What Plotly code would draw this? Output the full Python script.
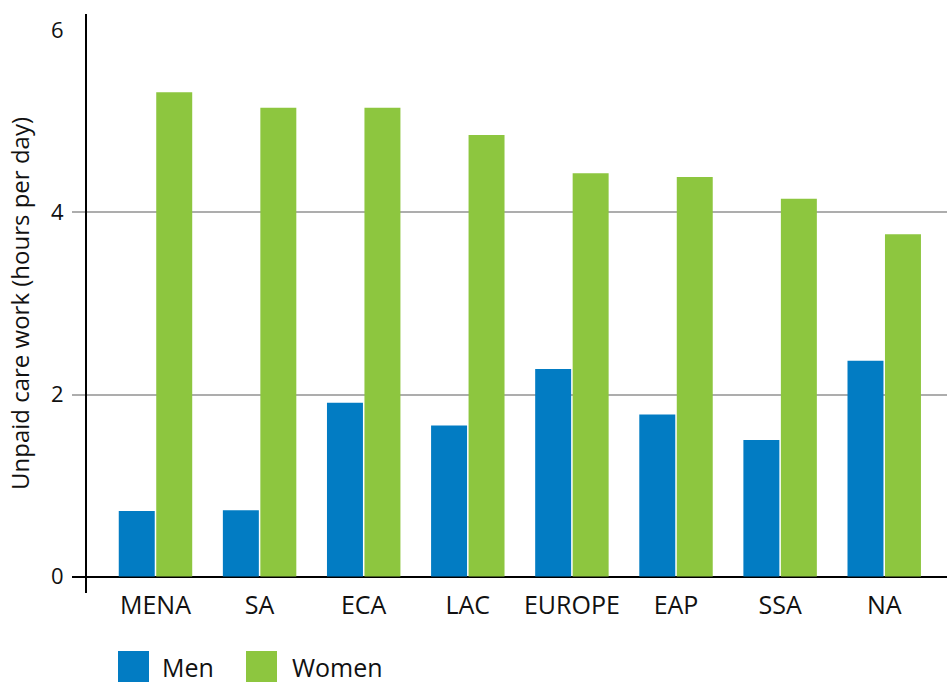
import plotly.graph_objects as go

regions = ["MENA", "SA", "ECA", "LAC", "EUROPE", "EAP", "SSA", "NA"]
men = [0.72, 0.73, 1.91, 1.66, 2.28, 1.78, 1.50, 2.37]
women = [5.32, 5.15, 5.15, 4.85, 4.43, 4.39, 4.15, 3.76]
series_names = ["Men", "Women"]
series_colors = ["#027CC3", "#8DC63F"]
y_ticks = [0, 2, 4, 6]
grid_ticks = [2, 4]

W, H = 947, 684
ML, MR, MT, MB = 72, 0, 14, 91
PW, PH = W - ML - MR, H - MT - MB

def px_x(p):
    return (p - ML) / PW

def px_y(p):
    return (H - MB - p) / PH

FONT = "Open Sans, Noto Sans, sans-serif"

fig = go.Figure()
for name, vals, col in zip(series_names, [men, women], series_colors):
    fig.add_trace(go.Bar(x=regions, y=vals, name=name, marker_color=col,
                         marker_line_width=0, showlegend=False))
# empty helper trace so the grid-only overlay axis is rendered
fig.add_trace(go.Scatter(x=[], y=[], yaxis="y2", showlegend=False, hoverinfo="skip"))

yr = [-0.18, 6.18]
fig.update_layout(
    width=W, height=H,
    margin=dict(l=ML, r=MR, t=MT, b=MB, pad=0),
    paper_bgcolor="white", plot_bgcolor="white",
    barmode="group", bargap=0.28, bargroupgap=0.04,
    font=dict(family=FONT, color="#111111"),
    xaxis=dict(
        domain=[0, 1], range=[-0.802, 7.603], type="category",
        showline=False, showgrid=False, zeroline=False, ticks="",
        tickfont=dict(size=25, family=FONT, color="#111111"),
        ticklabelstandoff=-5,
    ),
    yaxis=dict(
        range=yr, anchor="free", position=px_x(86), side="left",
        tickvals=y_ticks, ticktext=[str(v) for v in y_ticks],
        showgrid=False, zeroline=True, zerolinecolor="#000000", zerolinewidth=2,
        showline=True, linecolor="#000000", linewidth=2, ticks="",
        tickfont=dict(size=22, family=FONT, color="#111111"),
        ticklabelstandoff=17,
        title=dict(text="Unpaid care work (hours per day)",
                   font=dict(size=24, family=FONT, color="#111111"), standoff=14),
        layer="above traces",
    ),
    yaxis2=dict(
        range=yr, overlaying="y", anchor="x", side="left",
        tickvals=grid_ticks, showticklabels=False, ticks="",
        showgrid=True, gridcolor="#ADADAD", gridwidth=2,
        zeroline=False, showline=False,
    ),
)

# custom legend with large square swatches
legend_sq = [118, 246]
legend_txt = [160, 290]
sq_top, sq_bot = 651, 682
for name, col, sx, tx in zip(series_names, series_colors, legend_sq, legend_txt):
    fig.add_shape(type="rect", xref="paper", yref="paper",
                  x0=px_x(sx), x1=px_x(sx + 31), y0=px_y(sq_bot), y1=px_y(sq_top),
                  fillcolor=col, line_width=0)
    fig.add_annotation(text=name, xref="paper", yref="paper",
                       x=px_x(tx), y=px_y((sq_top + sq_bot) / 2),
                       xanchor="left", yanchor="middle", showarrow=False,
                       font=dict(size=25, family=FONT, color="#111111"))

fig.write_html("out.html", config={"displayModeBar": False},
               post_script="document.body.style.margin='0';")
